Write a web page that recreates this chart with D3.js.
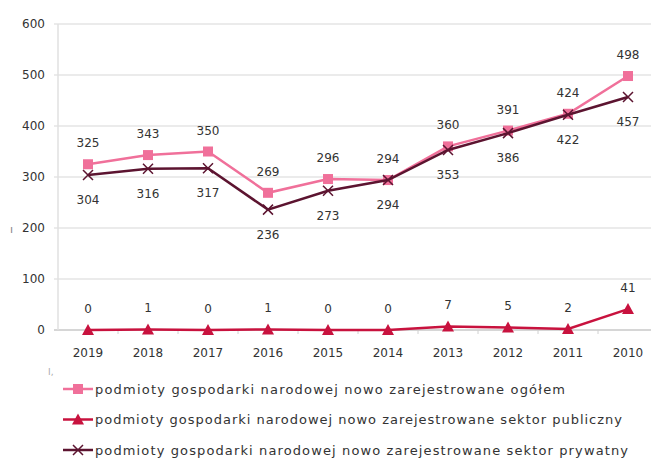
<!DOCTYPE html>
<html>
<head>
<meta charset="utf-8">
<script src="https://cdn.jsdelivr.net/npm/d3@7"></script>
<style>
  body { margin: 0; background: #fff; }
  text { font-family: "DejaVu Sans", "Noto Sans", sans-serif; fill: #333; }
</style>
</head>
<body>
<script>
// data
const years = ["2019", "2018", "2017", "2016", "2015", "2014", "2013", "2012", "2011", "2010"];
const totalVals = [325, 343, 350, 269, 296, 294, 360, 391, 424, 498];
const publicVals = [0, 1, 0, 1, 0, 0, 7, 5, 2, 41];
const privateVals = [304, 316, 317, 236, 273, 294, 353, 386, 422, 457];
const yTicks = [0, 100, 200, 300, 400, 500, 600];
const legendNames = [
  "podmioty gospodarki narodowej nowo zarejestrowane ogółem",
  "podmioty gospodarki narodowej nowo zarejestrowane sektor publiczny",
  "podmioty gospodarki narodowej nowo zarejestrowane  sektor prywatny"
];

const W = 651, H = 459;
const plot = {left: 58, right: 658, top: 24, bottom: 330};

const svg = d3.select("body").append("svg")
    .attr("width", W).attr("height", H);

const x = d3.scalePoint().domain(years)
    .range([plot.left, plot.right]).padding(0.5);
const y = d3.scaleLinear().domain([0, 600]).range([plot.bottom, plot.top]);

// horizontal grid
svg.append("g").selectAll("line")
  .data(yTicks).join("line")
    .attr("x1", plot.left - 4).attr("x2", W)
    .attr("y1", d => y(d)).attr("y2", d => y(d))
    .attr("stroke", d => d === 0 ? "#c8c8c8" : "#e4e4e4")
    .attr("stroke-width", 1.5);

// left axis line
svg.append("line")
    .attr("x1", plot.left).attr("x2", plot.left)
    .attr("y1", plot.top).attr("y2", plot.bottom)
    .attr("stroke", "#e0e0e0").attr("stroke-width", 1.5);

// small x ticks between categories
svg.append("g").selectAll("line")
  .data(years.slice(1)).join("line")
    .attr("x1", d => x(d) - x.step() / 2).attr("x2", d => x(d) - x.step() / 2)
    .attr("y1", plot.bottom).attr("y2", plot.bottom + 4)
    .attr("stroke", "#d0d0d0");

// y labels
svg.append("g").selectAll("text")
  .data(yTicks).join("text")
    .attr("x", 45).attr("y", d => y(d))
    .attr("dy", "0.35em")
    .attr("text-anchor", "end")
    .style("font-size", "12px")
    .text(d => d);

// x labels
svg.append("g").selectAll("text")
  .data(years).join("text")
    .attr("x", d => x(d)).attr("y", plot.bottom + 27)
    .attr("text-anchor", "middle")
    .style("font-size", "12px")
    .text(d => d);

// stray scan marks in the source
svg.append("text").attr("x", 10).attr("y", 233).style("font-size", "11px")
    .style("fill", "#888").text("ı");
svg.append("text").attr("x", 48).attr("y", 375).style("font-size", "9px")
    .style("fill", "#aaa").text("I,");

const series = [
  {vals: totalVals, color: "#f0709a", marker: "square", labelDy: -17},
  {vals: publicVals, color: "#c8123e", marker: "triangle", labelDy: -17},
  {vals: privateVals, color: "#5c1430", marker: "cross", labelDy: 29}
];

const line = d3.line().x((d, i) => x(years[i])).y(d => y(d));

function drawMarker(g, type, color) {
  if (type === "square") {
    g.append("rect").attr("x", -5).attr("y", -5).attr("width", 10).attr("height", 10)
      .attr("fill", color);
  } else if (type === "triangle") {
    g.append("path").attr("d", "M0,-6 L6,5 L-6,5 Z").attr("fill", color);
  } else {
    g.append("path").attr("d", "M-5,-5 L5,5 M-5,5 L5,-5")
      .attr("stroke", color).attr("stroke-width", 1.5).attr("fill", "none");
  }
}

// draw order: public, total, private on top
[series[1], series[0], series[2]].forEach(s => {
  svg.append("path")
    .datum(s.vals)
    .attr("d", line)
    .attr("fill", "none")
    .attr("stroke", s.color)
    .attr("stroke-width", 2.5);
  s.vals.forEach((v, i) => {
    const g = svg.append("g").attr("transform", `translate(${x(years[i])},${y(v)})`);
    drawMarker(g, s.marker, s.color);
  });
});

// data labels
series.forEach(s => {
  svg.append("g").selectAll("text")
    .data(s.vals).join("text")
      .attr("x", (d, i) => x(years[i]))
      .attr("y", d => y(d) + s.labelDy)
      .attr("text-anchor", "middle")
      .style("font-size", "12px")
      .text(d => d);
});

// legend
const legendEnds = [565, 622, 628]; // right edge of each legend text in the reference
const legend = svg.append("g");
legendNames.forEach((name, i) => {
  const ly = 389 + i * 30.5;
  const g = legend.append("g").attr("transform", `translate(0,${ly})`);
  g.append("line").attr("x1", 63).attr("x2", 93).attr("y1", 0).attr("y2", 0)
    .attr("stroke", series[i].color).attr("stroke-width", 2.5);
  const m = g.append("g").attr("transform", "translate(78,0)");
  drawMarker(m, series[i].marker, series[i].color);
  g.append("text").attr("x", 95).attr("y", 0).attr("dy", "0.35em")
    .style("font-size", "13px")
    .attr("textLength", legendEnds[i] - 95)
    .attr("lengthAdjust", "spacing")
    .text(name);
});
</script>
</body>
</html>
